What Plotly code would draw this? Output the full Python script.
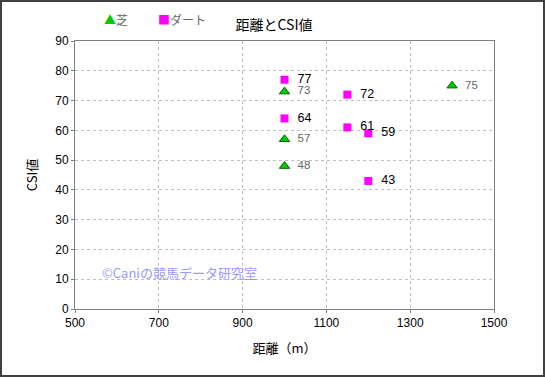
import plotly.graph_objects as go

turf_x = [1000, 1000, 1000, 1400]
turf_y = [73, 57, 48, 75]
dirt_x = [1000, 1000, 1150, 1150, 1200, 1200]
dirt_y = [77, 64, 72, 61, 59, 43]
series_names = ["芝", "ダート"]

FONT = "Liberation Sans, Arial, Noto Sans CJK JP, sans-serif"
JFONT = "Noto Sans CJK JP, Liberation Sans, sans-serif"
TURF_C = "#00cc00"
DIRT_C = "#ff00ff"
PAD = "\u00a0\u00a0"

fig = go.Figure()
fig.add_trace(go.Scatter(
    x=turf_x, y=turf_y, mode="markers+text", name=series_names[0],
    text=[PAD + str(v) for v in turf_y], textposition="middle right",
    textfont=dict(color="#666666", size=11.5, family=FONT),
    marker=dict(symbol="triangle-up", size=9, color=TURF_C,
                line=dict(color="#006600", width=1)),
    cliponaxis=False,
))
fig.add_trace(go.Scatter(
    x=dirt_x, y=dirt_y, mode="markers+text", name=series_names[1],
    text=[PAD + str(v) for v in dirt_y], textposition="middle right",
    textfont=dict(color="#000000", size=12.5, family=FONT),
    marker=dict(symbol="square", size=8, color=DIRT_C,
                line=dict(color=DIRT_C, width=0)),
    cliponaxis=False,
))

L, R, T, B = 75, 51, 41, 68
W, H = 545, 377
pw, ph = W - L - R, H - T - B

def px(x):
    return (x - L) / pw

def py(y):
    return (H - B - y) / ph

fig.update_layout(
    width=W, height=H,
    margin=dict(l=L, r=R, t=T, b=B),
    paper_bgcolor="white", plot_bgcolor="white",
    font=dict(family=FONT, size=12, color="#000000"),
    title=dict(text="距離とCSI値", x=px(274), xref="paper", xanchor="center",
               y=1 - 25 / H, yanchor="middle",
               font=dict(family=JFONT, size=14, color="#000000")),
    showlegend=False,
    xaxis=dict(range=[500, 1500], dtick=200, tick0=500,
               showgrid=True, gridcolor="#c0c0c0", griddash="dot", gridwidth=1,
               showline=True, linecolor="#808080", linewidth=1, mirror=True,
               ticks="outside", ticklen=3, tickcolor="#808080",
               tickfont=dict(size=12, color="#000000"),
               zeroline=False,
               title=dict(text="距離（m）", standoff=14,
                          font=dict(family=JFONT, size=13, color="#000000"))),
    yaxis=dict(range=[0, 90], dtick=10,
               showgrid=True, gridcolor="#c0c0c0", griddash="dot", gridwidth=1,
               showline=True, linecolor="#808080", linewidth=1, mirror=True,
               ticks="outside", ticklen=3, tickcolor="#808080",
               tickfont=dict(size=12, color="#000000"),
               zeroline=False,
               title=dict(text="CSI値", standoff=14,
                          font=dict(family=JFONT, size=13, color="#000000"))),
)

# legend drawn as text entries
fig.add_annotation(text=f"<span style='color:{TURF_C}'>▲</span>{series_names[0]}",
                   xref="paper", yref="paper", x=px(102), y=py(19),
                   xanchor="left", yanchor="middle", showarrow=False,
                   font=dict(family=JFONT, size=12, color="#666666"))
fig.add_annotation(text=f"<span style='color:{DIRT_C}'>■</span>{series_names[1]}",
                   xref="paper", yref="paper", x=px(156), y=py(19),
                   xanchor="left", yanchor="middle", showarrow=False,
                   font=dict(family=JFONT, size=12, color="#666666"))

fig.add_annotation(text="©Caniの競馬データ研究室", xref="paper", yref="paper",
                   x=px(100), y=py(272), xanchor="left", yanchor="middle",
                   showarrow=False,
                   font=dict(family=JFONT, size=13, color="#9999ff"))

fig.add_shape(type="rect", xref="paper", yref="paper",
              x0=px(1), x1=px(544), y0=py(376), y1=py(1),
              line=dict(color="#404040", width=2), fillcolor="rgba(0,0,0,0)",
              layer="below")

fig.write_html("out.html", config={"displayModeBar": False},
               post_script="document.body.style.margin='0';document.body.style.padding='0';")
